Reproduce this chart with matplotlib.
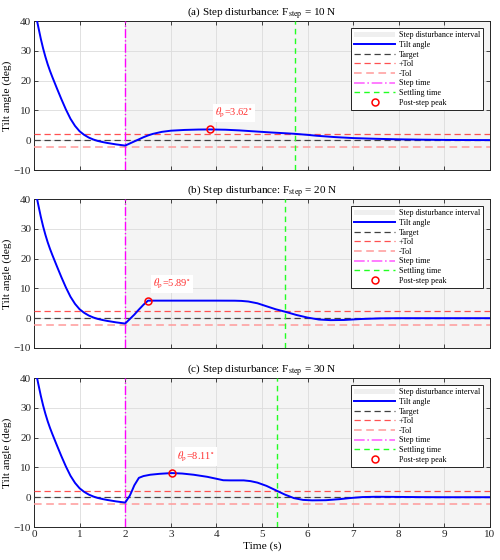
import numpy as np
import matplotlib
matplotlib.use("Agg")
import matplotlib.pyplot as plt
from matplotlib.patches import Patch
from matplotlib.lines import Line2D

plt.rcParams['font.family'] = ['Liberation Serif', 'DejaVu Serif']
plt.rcParams['mathtext.fontset'] = 'stix'

# shared response before the step (t < 2 s)
t_pre = [0.0, 0.05, 0.1, 0.15, 0.2, 0.25, 0.3, 0.35, 0.4, 0.45, 0.5, 0.6, 0.7,
         0.8, 0.9, 1.0, 1.1, 1.2, 1.3, 1.4, 1.5, 1.6, 1.7, 1.8, 1.9, 2.0]
y_pre = [45.5, 41.3, 37.6, 34.0, 30.8, 28.0, 25.5, 23.3, 21.3, 19.4, 17.5, 13.8, 10.3,
         7.2, 4.8, 3.0, 1.8, 0.9, 0.25, -0.25, -0.6, -0.9, -1.15, -1.4, -1.6, -1.8]

# post-step responses
t_a = [2.1, 2.2, 2.3, 2.4, 2.5, 2.6, 2.8, 3.0, 3.3, 3.6, 3.85, 4.2, 4.5, 4.75,
       5.0, 5.2, 5.5, 5.72, 6.0, 6.2, 6.6, 7.0, 7.5, 8.0, 8.5, 9.0, 9.5, 10.0]
y_a = [-1.1, -0.4, 0.3, 1.0, 1.6, 2.1, 2.8, 3.2, 3.45, 3.58, 3.62, 3.52, 3.3, 3.05,
       2.8, 2.6, 2.35, 2.15, 1.8, 1.5, 1.05, 0.72, 0.48, 0.3, 0.18, 0.1, 0.06, 0.04]

t_b = [2.1, 2.2, 2.3, 2.4, 2.5, 3.0, 3.5, 4.0, 4.4, 4.55, 4.7, 4.9, 5.1, 5.3,
       5.5, 5.75, 6.0, 6.25, 6.5, 6.8, 7.2, 7.6, 8.0, 9.0, 10.0]
y_b = [-0.3, 1.2, 2.9, 4.5, 5.89, 5.89, 5.89, 5.89, 5.87, 5.8, 5.6, 5.0, 4.0, 3.0,
       2.2, 1.1, 0.2, -0.45, -0.65, -0.6, -0.25, -0.05, 0.0, 0.0, 0.0]

t_c = [2.1, 2.15, 2.2, 2.3, 2.4, 2.55, 2.75, 3.02, 3.25, 3.5, 3.8, 4.0, 4.15, 4.3,
       4.6, 4.75, 4.9, 5.1, 5.3, 5.5, 5.7, 5.9, 6.1, 6.4, 6.7, 6.95, 7.2, 7.5,
       8.0, 8.5, 9.0, 10.0]
y_c = [0.5, 2.2, 4.0, 6.5, 7.1, 7.55, 7.85, 8.11, 7.95, 7.55, 6.85, 6.2, 5.7, 5.65,
       5.65, 5.4, 4.9, 3.8, 2.35, 0.9, -0.3, -0.9, -1.05, -1.0, -0.65, -0.25, 0.05, 0.15,
       0.1, 0.03, 0.0, 0.0]

panels = ['(a)', '(b)', '(c)']
forces = [10, 20, 30]
t_post = [t_a, t_b, t_c]
y_post = [y_a, y_b, y_c]
peak_t = [3.85, 2.5, 3.02]
peak_y = [3.62, 5.89, 8.11]
settle_t = [5.72, 5.5, 5.32]
t_step = 2.0
tol = 2.25
target = 0.0

fig = plt.figure(figsize=(5, 5.6), dpi=100)
bottoms = [0.6964, 0.3786, 0.0589]

for i in range(3):
    ax = fig.add_axes([0.068, bottoms[i], 0.912, 0.266])
    t = t_pre + t_post[i]
    y = y_pre + y_post[i]

    ax.axvspan(t_step, 10, color='#f4f4f4', lw=0, zorder=0)
    ax.plot(t, y, color='#0000ff', lw=1.4, zorder=4)
    ax.axhline(target, color='#404040', ls=(0, (5, 3)), lw=0.9, zorder=3)
    ax.axhline(target + tol, color='#ff5050', ls=(0, (5, 3)), lw=0.9, zorder=3)
    ax.axhline(target - tol, color='#ff9a9a', ls=(0, (5, 3)), lw=1.1, zorder=3)
    ax.axvline(t_step, color='#ff00ff', ls='-.', lw=1.0, zorder=3)
    ax.axvline(settle_t[i], color='#22ff22', ls=(0, (4, 3)), lw=1.0, zorder=3)
    ax.plot(peak_t[i], peak_y[i], 'o', mfc='none', mec='#ff0000', mew=1.1, ms=5, zorder=5)
    ax.text(peak_t[i] + 0.12, peak_y[i] + 3.2,
            r'$\theta_{\rm p}$=%.2f$^{\circ}$' % peak_y[i],
            color='#ff3030', fontsize=7.5, va='bottom', ha='left',
            bbox=dict(facecolor='white', edgecolor='none', pad=1.5), zorder=6)

    ax.set_xlim(0, 10)
    ax.set_ylim(-10, 40)
    ax.set_xticks(range(0, 11))
    ax.set_yticks(range(-10, 41, 10))
    ax.grid(True, color='#dcdcdc', lw=0.6)
    ax.tick_params(direction='in', top=True, right=True, length=3, pad=2,
                   labelsize=8, colors='#262626', width=0.6)
    for s in ax.spines.values():
        s.set_color('#262626')
        s.set_linewidth(0.7)
    ax.set_ylabel('Tilt angle (deg)', fontsize=8.2, labelpad=1)
    ax.set_title(r'%s Step disturbance: F$_{\rm step}$ = %d N' % (panels[i], forces[i]),
                 fontsize=8, pad=4)
    if i < 2:
        ax.set_xticklabels([])
    else:
        ax.set_xlabel('Time (s)', fontsize=8.2, labelpad=2)

    handles = [
        Patch(facecolor='#efefef', edgecolor='none'),
        Line2D([], [], color='#0000ff', lw=1.4),
        Line2D([], [], color='#404040', ls=(0, (5, 3)), lw=0.9),
        Line2D([], [], color='#ff5050', ls=(0, (5, 3)), lw=0.9),
        Line2D([], [], color='#ff9a9a', ls=(0, (5, 3)), lw=1.1),
        Line2D([], [], color='#ff66ff', ls='-.', lw=1.2),
        Line2D([], [], color='#22ff22', ls=(0, (4, 3)), lw=1.0),
        Line2D([], [], color='none', marker='o', mfc='none', mec='#ff0000', mew=1.1, ms=5),
    ]
    labels = ['Step disturbance interval', 'Tilt angle', 'Target', '+Tol', '-Tol',
              'Step time', 'Settling time', 'Post-step peak']
    leg = ax.legend(handles, labels, loc='upper right', fontsize=5.9, frameon=True,
                    fancybox=False, framealpha=1, edgecolor='#222222',
                    handlelength=5.0, handletextpad=0.4, labelspacing=0.2,
                    borderpad=0.35, borderaxespad=0.9)
    leg.get_frame().set_linewidth(0.7)
    leg.set_zorder(10)

fig.savefig('out.png', dpi=100)
